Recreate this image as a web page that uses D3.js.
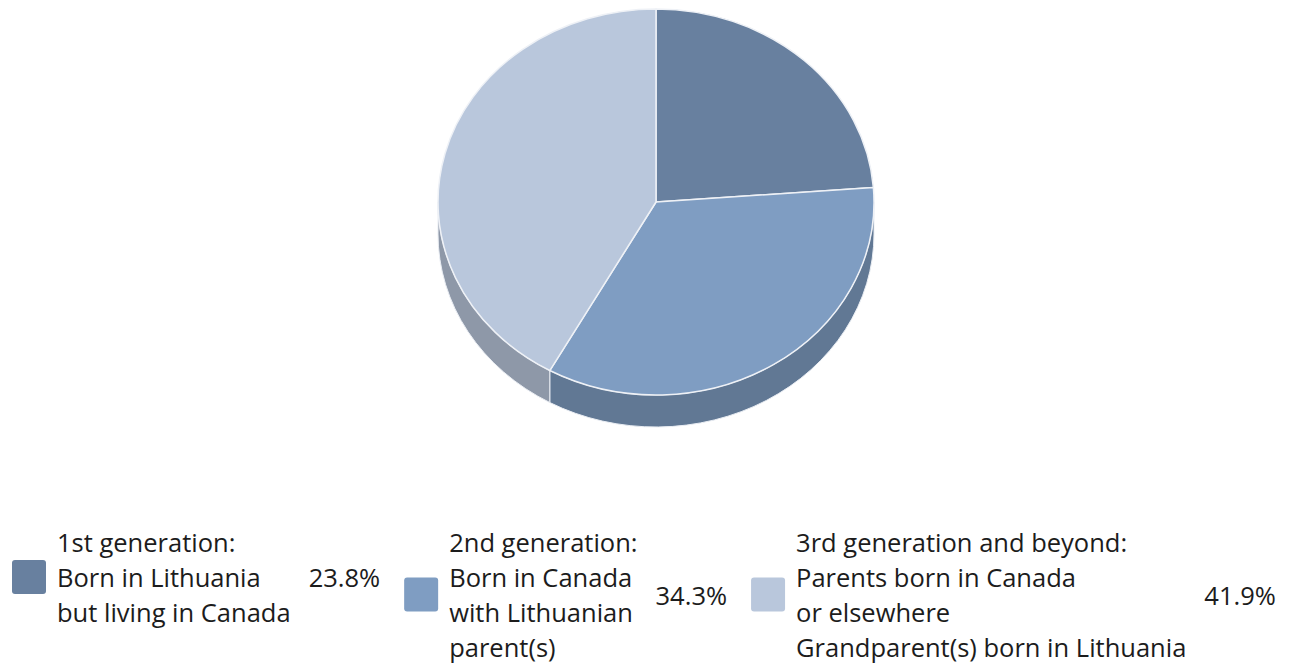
<!DOCTYPE html>
<html>
<head>
<meta charset="utf-8">
<title>Lithuanian Canadians by generation</title>
<script src="https://cdn.jsdelivr.net/npm/d3@7"></script>
<style>
  body { margin: 0; background: #fff; }
  svg { display: block; }
  text { font-family: "Open Sans", sans-serif; fill: #1c1c1c; }
</style>
</head>
<body>
<svg id="chart" width="1289" height="666"></svg>
<script>
// data
const labelLines = [
  ["1st generation:", "Born in Lithuania", "but living in Canada"],
  ["2nd generation:", "Born in Canada", "with Lithuanian", "parent(s)"],
  ["3rd generation and beyond:", "Parents born in Canada", "or elsewhere", "Grandparent(s) born in Lithuania"]
];
const values = [23.8, 34.3, 41.9];
const valueLabels = ["23.8%", "34.3%", "41.9%"];
const colors = ["#68809f", "#7f9dc2", "#b9c7dc"];

const svg = d3.select("#chart");

// pie geometry (tilted ellipse)
const cx = 656, cy = 202, rx = 218, ry = 193, depth = 32;
const pie = d3.pie().sort(null).value(d => d);
const arcs = pie(values);

function pt(a, dy) {
  return [cx + rx * Math.sin(a), cy - ry * Math.cos(a) + (dy || 0)];
}

// side walls, only front half is visible
const walls = svg.append("g");
arcs.forEach((d, i) => {
  const a0 = Math.max(d.startAngle, Math.PI / 2);
  const a1 = Math.min(d.endAngle, Math.PI * 1.5);
  if (a1 <= a0) return;
  const p0 = pt(a0), p1 = pt(a1), q1 = pt(a1, depth), q0 = pt(a0, depth);
  const path = `M${p0} A${rx},${ry} 0 0 1 ${p1} L${q1} A${rx},${ry} 0 0 0 ${q0} Z`;
  walls.append("path")
    .attr("d", path)
    .attr("fill", d3.color(colors[i]).darker(0.75))
    .attr("stroke", "#e9edf3")
    .attr("stroke-width", 1);
});

// top face
const tops = svg.append("g");
arcs.forEach((d, i) => {
  const p0 = pt(d.startAngle), p1 = pt(d.endAngle);
  const large = d.endAngle - d.startAngle > Math.PI ? 1 : 0;
  tops.append("path")
    .attr("d", `M${cx},${cy} L${p0} A${rx},${ry} 0 ${large} 1 ${p1} Z`)
    .attr("fill", colors[i])
    .attr("stroke", "#eef1f6")
    .attr("stroke-width", 1.5)
    .attr("stroke-linejoin", "round");
});

// legend
const lineH = 35, firstBase = 552, fontSize = 25.5;
const legend = svg.append("g");
let x = 12;
labelLines.forEach((lines, i) => {
  const g = legend.append("g");
  const midBase = firstBase + (lines.length - 1) * lineH / 2;
  g.append("rect")
    .attr("x", x).attr("y", midBase - 10 - 17)
    .attr("width", 34).attr("height", 34)
    .attr("rx", 3)
    .attr("fill", colors[i]);
  const tx = x + 45;
  let maxW = 0;
  lines.forEach((s, j) => {
    const t = g.append("text")
      .attr("x", tx).attr("y", firstBase + j * lineH)
      .attr("font-size", fontSize)
      .text(s);
    maxW = Math.max(maxW, t.node().getComputedTextLength());
  });
  const vx = tx + maxW + 18;
  const v = g.append("text")
    .attr("x", vx).attr("y", midBase)
    .attr("font-size", fontSize)
    .text(valueLabels[i]);
  x = vx + v.node().getComputedTextLength() + 24;
});
</script>
</body>
</html>
